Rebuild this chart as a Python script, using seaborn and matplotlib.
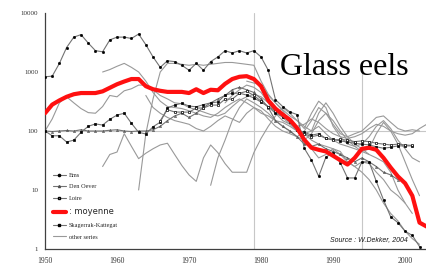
"""Glass eel recruitment series (log scale) with the red average line."""

import matplotlib

matplotlib.use("Agg")
import matplotlib.pyplot as plt
import numpy as np
import seaborn as sns
from matplotlib.lines import Line2D

# --- data (one value per year) ---
moyenne_start = 1950
moyenne = [200, 280, 330, 380, 420, 440, 440, 440, 470, 540,
           620, 690, 760, 760, 575, 510, 480, 460, 460, 460,
           440, 510, 440, 500, 490, 630, 760, 830, 850, 760,
           575, 330, 240, 190, 155, 112, 71, 52, 48, 45,
           38, 32, 27, 35, 50, 52, 48, 35, 24, 17,
           13, 8, 2.8, 2.4]

ems_start = 1950
ems = [830, 850, 1400, 2600, 3900, 4300, 3100, 2300, 2200, 3500,
       3900, 3900, 3700, 4400, 2900, 1800, 1200, 1550, 1500, 1300,
       1070, 1400, 1070, 1500, 1800, 2300, 2100, 2300, 2100, 2300,
       1800, 1070, 340, 260, 210, 190, 51, 32, 17, 36,
       43, 29, 16, 16, 30, 30, 14, 6.8, 3.5, 2.8,
       2.0, 1.7, 1.1]

den_oever_start = 1950
den_oever = [100, 98, 100, 102, 100, 105, 100, 100, 100, 103,
             105, 100, 98, 100, 100, 105, 120, 150, 180, 200,
             170, 200, 250, 300, 350, 400, 500, 550, 500, 450,
             350, 250, 150, 120, 100, 80, 60, 55, 60, 50,
             45, 40, 35, 30, 35, 30, 25, 20, 18, 15]

loire_start = 1966
loire = [150, 230, 210, 209, 209, 245, 245, 275, 275, 347,
         347, 437, 470, 400, 320, 260, 220, 180, 140, 110,
         90, 80, 85, 75, 70, 72, 70, 66, 68, 66,
         62, 60, 58, 60, 58, 57]

skagerrak_start = 1950
skagerrak = [100, 83, 83, 65, 70, 95, 120, 132, 126, 158,
             186, 200, 135, 95, 89, 118, 141, 245, 275, 295,
             265, 257, 280, 300, 310, 407, 437, 437, 407, 363,
             310, 257, 200, 174, 155, 105, 95, 85, 90, 75,
             72, 68, 65, 62, 60, 58, 54, 51, 53, 56,
             56, 56]

other_1_start = 1963
other_1 = [10, 90, 350, 1000, 1400, 1400, 1350, 1300, 1350, 1300,
           1350, 1400, 1450, 1450, 1400, 1350, 1300, 700, 420, 300,
           230, 180, 150, 120, 100, 120, 90, 70, 60, 55,
           50, 45, 40]

other_2_start = 1958
other_2 = [1000, 1100, 1250, 1400, 1200, 1000, 700, 450, 320, 260,
           250, 240, 220, 200, 180, 170, 200, 250, 300, 350,
           300, 250, 200, 180, 150, 140, 120, 100, 90, 100,
           200, 300, 200, 120, 80, 60, 50, 40, 35, 30,
           20, 10, 6, 4]

other_3_start = 1950
other_3 = [100, 160, 300, 380, 300, 240, 205, 200, 260, 400,
           380, 480, 520, 600, 600, 500, 400, 350, 300, 290,
           250, 230, 210, 190, 180, 200, 260, 330, 380, 420,
           380, 300, 220, 170, 130, 100, 70, 50, 35, 40,
           50, 45, 30, 25, 30, 28, 20, 15, 10, 8,
           6]

other_4_start = 1958
other_4 = [25, 40, 44, 90, 55, 34, 42, 50, 58, 62,
           40, 26, 18, 14, 35, 58, 43, 28, 20, 20,
           20, 43, 75, 120, 180, 250, 200, 150, 110, 200,
           320, 250, 120, 80, 60, 55, 60, 80, 120, 150,
           110, 70, 50, 35, 30]

other_5_start = 1973
other_5 = [12, 35, 70, 150, 250, 350, 300, 250, 200, 150,
           120, 100, 80, 70, 90, 150, 200, 150, 100, 70,
           55, 45, 50, 90, 140, 100, 60, 30, 15, 8]

other_6_start = 1964
other_6 = [400, 250, 200, 170, 150, 140, 130, 110, 100, 120,
           150, 180, 160, 140, 200, 250, 220, 160, 120, 100,
           90, 80, 100, 150, 250, 200, 130, 90, 80, 90,
           100, 130, 170, 180, 140, 110, 100, 105, 100]

other_7_start = 1978
other_7 = [700, 650, 600, 400, 300, 220, 150, 110, 90, 70,
           60, 55, 50, 40, 30, 25, 20, 15, 10, 6,
           4, 3, 2, 1.5, 1.2]

other_8_start = 1975
other_8 = [300, 400, 500, 600, 550, 450, 300, 200, 150, 130,
           120, 130, 160, 140, 110, 90, 80, 75, 80, 90,
           110, 130, 120, 100, 90, 85, 90, 110, 130]

others = [
    (other_1_start, other_1),
    (other_2_start, other_2),
    (other_3_start, other_3),
    (other_4_start, other_4),
    (other_5_start, other_5),
    (other_6_start, other_6),
    (other_7_start, other_7),
    (other_8_start, other_8),
]

GREY = "0.6"
LINE_DARK = "0.45"
RED = "#ff1010"

EMS_STYLE = dict(marker="o", markersize=1.6, markerfacecolor="black",
                 markeredgecolor="black")
DEN_OEVER_STYLE = dict(marker="^", markersize=1.5, markerfacecolor="none",
                       markeredgecolor="0.3")
LOIRE_STYLE = dict(marker="s", markersize=1.8, markerfacecolor="white",
                   markeredgecolor="black")
SKAGERRAK_STYLE = dict(marker="s", markersize=1.8, markerfacecolor="black",
                       markeredgecolor="black")


def years_for(start, values):
    return np.arange(start, start + len(values))


sns.set_style("white")
plt.rcParams["font.family"] = ["Liberation Serif", "DejaVu Serif"]

fig = plt.figure(figsize=(4.26, 2.68), dpi=100)
ax = fig.add_axes([45 / 426, 19 / 268, 381 / 426, 236 / 268])
ax.set_yscale("log")

# reference grid lines
ax.axhline(100, color="0.78", lw=0.8, zorder=0)
ax.axvline(1979, color="0.78", lw=0.8, zorder=0)
ax.axvline(1994, ymax=0.75, color="0.78", lw=0.8, zorder=0)

for start, vals in others:
    sns.lineplot(x=years_for(start, vals), y=vals, ax=ax, color=GREY,
                 lw=0.8, legend=False, zorder=2)

marker_series = [
    (den_oever_start, den_oever, DEN_OEVER_STYLE),
    (skagerrak_start, skagerrak, SKAGERRAK_STYLE),
    (loire_start, loire, LOIRE_STYLE),
    (ems_start, ems, EMS_STYLE),
]
for start, vals, style in marker_series:
    sns.lineplot(x=years_for(start, vals), y=vals, ax=ax, color=LINE_DARK,
                 lw=0.8, legend=False, zorder=3, markeredgewidth=0.5,
                 **style)

sns.lineplot(x=years_for(moyenne_start, moyenne), y=moyenne, ax=ax,
             color=RED, lw=3.0, legend=False, zorder=5)

ax.set_xlim(1950, 2002.9)
ax.set_ylim(1, 10000)
ax.set_xticks([1950, 1960, 1970, 1980, 1990, 2000])
ax.set_yticks([1, 10, 100, 1000, 10000])
ax.set_yticklabels(["1", "10", "100", "1000", "10000"])
ax.minorticks_off()
ax.tick_params(axis="y", direction="out", length=3, width=0.8,
               labelsize=5, pad=2, colors="0.2")
ax.tick_params(axis="x", direction="inout", length=4, width=0.8,
               labelsize=5.5, pad=4, colors="0.2")
for side in ("top", "right"):
    ax.spines[side].set_visible(False)
for side in ("left", "bottom"):
    ax.spines[side].set_color("0.25")
    ax.spines[side].set_linewidth(0.9)
ax.set_xlabel("")
ax.set_ylabel("")

ax.text(0.617, 0.737, "Glass eels", transform=ax.transAxes,
        fontsize=23, family="Liberation Serif", va="baseline", ha="left",
        color="black")
ax.text(0.953, 0.038, "Source : W.Dekker, 2004", transform=ax.transAxes,
        fontsize=5, family="Liberation Sans", style="italic",
        ha="right", va="center", color="0.1")

handles = [
    Line2D([], [], color=LINE_DARK, lw=0.8, **EMS_STYLE),
    Line2D([], [], color=LINE_DARK, lw=0.8, **DEN_OEVER_STYLE),
    Line2D([], [], color=LINE_DARK, lw=0.8, **LOIRE_STYLE),
    Line2D([], [], color=RED, lw=3.0),
    Line2D([], [], color=LINE_DARK, lw=0.8, **SKAGERRAK_STYLE),
    Line2D([], [], color=GREY, lw=0.8),
]
labels = ["Ems", "Den Oever", "Loire", ": moyenne", "Skagerrak-Kattegat",
          "other series"]
leg = ax.legend(handles, labels, loc="upper left",
                bbox_to_anchor=(0.015, 0.335), frameon=False,
                fontsize=4.5, handlelength=2.0, handletextpad=0.5,
                labelspacing=1.0, borderaxespad=0)
for txt in leg.get_texts():
    txt.set_color("0.15")
leg.get_texts()[3].set_family("DejaVu Sans")
leg.get_texts()[3].set_fontsize(6)

fig.savefig("out.png", dpi=100)
plt.close(fig)
